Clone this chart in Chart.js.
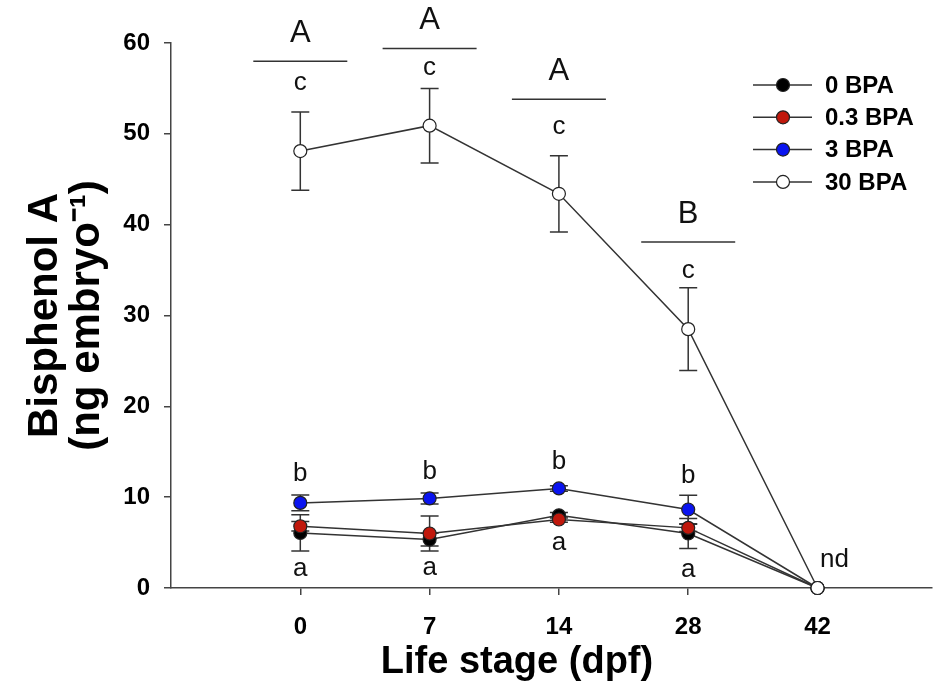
<!DOCTYPE html>
<html lang="en">
  <head>
    <meta charset="UTF-8">
    <title>Bisphenol A by life stage</title>
    <script src="https://cdn.jsdelivr.net/npm/chart.js@4.4.7/dist/chart.umd.min.js"></script>
    <style>
    body { margin: 0; background: #fff; }
    canvas { display: block; }
    </style>
  </head>
  <body>
    <canvas id="bpaChart" width="939" height="688"></canvas>
    <script>
    // life stage (dpf) categories
    const stages = ['0', '7', '14', '28', '42'];

    // BPA per embryo (ng), mean and SE per treatment
    const bpa0 = [6.06, 5.33, 8.0, 6.0, 0];
    const bpa0Err = [2.0, 0.7, 0.3, 1.66, 0];
    const bpa03 = [6.8, 6.0, 7.54, 6.62, 0];
    const bpa03Err = [0.52, 1.93, 0.3, 0.4, 0];
    const bpa3 = [9.37, 9.86, 10.96, 8.64, 0];
    const bpa3Err = [0.87, 0.6, 0.3, 1.57, 0];
    const bpa30 = [48.1, 50.9, 43.4, 28.5, 0];
    const bpa30Err = [4.3, 4.1, 4.2, 4.55, 0];

    // significance letters (y in ng embryo-1)
    const groupLetters = ['A', 'A', 'A', 'B'];
    const groupLineY = [58.0, 59.4, 53.8, 38.1];
    const upperLetters = ['c', 'c', 'c', 'c'];
    const upperLetterY = [55.6, 57.2, 50.8, 34.95];
    const midLetters = ['b', 'b', 'b', 'b'];
    const midLetterY = [12.6, 12.8, 13.9, 12.3];
    const lowLetters = ['a', 'a', 'a', 'a'];
    const lowLetterY = [2.14, 2.25, 4.96, 1.95];
    const ndLabel = 'nd';
    const ndY = 3.06;

    const FONT = "'Liberation Sans', Arial, Helvetica, sans-serif";
    const lineCol = '#333';

    function series(label, values, errs, fill, order) {
      return {
        label: label,
        data: values.map((v, i) => ({ x: i, y: v, err: errs[i] })),
        order: order,
        borderColor: lineCol,
        borderWidth: 1.5,
        pointRadius: 6.5,
        pointHoverRadius: 6.5,
        pointBorderWidth: 1.2,
        pointBorderColor: '#222',
        pointBackgroundColor: fill,
        fill: false,
        tension: 0,
        clip: false
      };
    }

    const datasets = [
      series('0 BPA', bpa0, bpa0Err, '#000000', 3),
      series('0.3 BPA', bpa03, bpa03Err, '#c0180c', 2),
      series('3 BPA', bpa3, bpa3Err, '#0a14f0', 1),
      series('30 BPA', bpa30, bpa30Err, '#ffffff', 0)
    ];

    const errorBars = {
      id: 'errorBars',
      beforeDatasetsDraw(chart) {
        const ctx = chart.ctx;
        const xs = chart.scales.x, ys = chart.scales.y;
        ctx.save();
        ctx.strokeStyle = lineCol;
        ctx.lineWidth = 1.5;
        chart.data.datasets.forEach((ds) => {
          ds.data.forEach((p) => {
            if (!p.err) return;
            const x = xs.getPixelForValue(p.x);
            const top = ys.getPixelForValue(p.y + p.err);
            const bot = ys.getPixelForValue(p.y - p.err);
            ctx.beginPath();
            ctx.moveTo(x, top); ctx.lineTo(x, bot);
            ctx.moveTo(x - 9, top); ctx.lineTo(x + 9, top);
            ctx.moveTo(x - 9, bot); ctx.lineTo(x + 9, bot);
            ctx.stroke();
          });
        });
        ctx.restore();
      }
    };

    const letters = {
      id: 'letters',
      afterDatasetsDraw(chart) {
        const ctx = chart.ctx;
        const xs = chart.scales.x, ys = chart.scales.y;
        ctx.save();
        ctx.fillStyle = '#111';
        ctx.textAlign = 'center';
        ctx.textBaseline = 'alphabetic';
        const lower = (txt, i, yv, dx) => {
          ctx.font = '26px ' + FONT;
          ctx.fillText(txt, xs.getPixelForValue(i) + (dx || 0), ys.getPixelForValue(yv) + 7);
        };
        groupLetters.forEach((g, i) => {
          const x = xs.getPixelForValue(i);
          const y = ys.getPixelForValue(groupLineY[i]);
          ctx.strokeStyle = lineCol;
          ctx.lineWidth = 1.5;
          ctx.beginPath();
          ctx.moveTo(x - 47, y); ctx.lineTo(x + 47, y);
          ctx.stroke();
          ctx.font = '31px ' + FONT;
          ctx.fillText(g, x, y - 30 + 11);
          lower(upperLetters[i], i, upperLetterY[i]);
          lower(midLetters[i], i, midLetterY[i]);
          lower(lowLetters[i], i, lowLetterY[i]);
        });
        lower(ndLabel, 4, ndY, 17);
        ctx.restore();
      }
    };

    const extras = {
      id: 'extras',
      afterDraw(chart) {
        const ctx = chart.ctx;
        ctx.save();
        // legend
        chart.data.datasets.forEach((ds, i) => {
          const y = 85 + i * 32.3;
          ctx.strokeStyle = lineCol;
          ctx.lineWidth = 1.5;
          ctx.beginPath();
          ctx.moveTo(753, y); ctx.lineTo(812, y);
          ctx.stroke();
          ctx.beginPath();
          ctx.arc(783, y, 6.5, 0, Math.PI * 2);
          ctx.fillStyle = ds.pointBackgroundColor;
          ctx.fill();
          ctx.lineWidth = 1.2;
          ctx.strokeStyle = '#222';
          ctx.stroke();
          ctx.fillStyle = '#000';
          ctx.font = 'bold 24px ' + FONT;
          ctx.textAlign = 'left';
          ctx.textBaseline = 'middle';
          ctx.fillText(ds.label, 825, y + 1);
        });
        // x axis title
        ctx.fillStyle = '#000';
        ctx.font = 'bold 38px ' + FONT;
        ctx.textAlign = 'center';
        ctx.textBaseline = 'middle';
        ctx.fillText('Life stage (dpf)', 517, 663);
        ctx.restore();
      }
    };

    const ctx = document.getElementById('bpaChart').getContext('2d');
    const bpaChart = new Chart(ctx, {
      type: 'line',
      data: { datasets: datasets },
      plugins: [errorBars, letters, extras],
      options: {
        responsive: false,
        animation: false,
        devicePixelRatio: 1,
        layout: { padding: { top: 43, right: 0, left: 0, bottom: 0 } },
        plugins: {
          legend: { display: false },
          tooltip: { enabled: false }
        },
        scales: {
          x: {
            type: 'linear',
            min: -1,
            max: 4.88,
            afterBuildTicks: (scale) => {
              scale.ticks = stages.map((s, i) => ({ value: i }));
            },
            afterFit: (scale) => { scale.height = 100; },
            ticks: {
              padding: 18,
              color: '#000',
              font: { family: FONT, size: 24, weight: 'bold' },
              callback: (v) => stages[Math.round(v)]
            },
            grid: { drawOnChartArea: false, drawTicks: true, tickLength: 7, color: '#444', lineWidth: 1.5 },
            border: { display: true, color: '#444', width: 1.5 },
            title: { display: false }
          },
          y: {
            min: 0,
            max: 60,
            afterFit: (scale) => { scale.width = 171; },
            ticks: {
              stepSize: 10,
              padding: 14,
              color: '#000',
              font: { family: FONT, size: 24, weight: 'bold' }
            },
            grid: { drawOnChartArea: false, drawTicks: true, tickLength: 7, color: '#444', lineWidth: 1.5 },
            border: { display: true, color: '#444', width: 1.5 },
            title: {
              display: true,
              text: ['Bisphenol A', '(ng embryo\u207B\u00B9)'],
              color: '#000',
              font: { family: FONT, size: 42, weight: 'bold', lineHeight: 1.0 },
              padding: { top: 24, bottom: 0 }
            }
          }
        }
      }
    });
    </script>
  </body>
</html>
